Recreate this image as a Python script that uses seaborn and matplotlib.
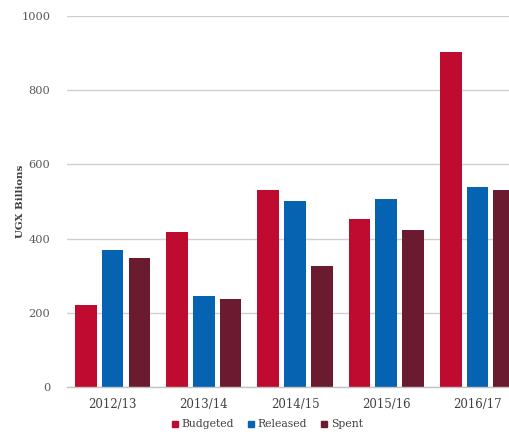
import matplotlib
matplotlib.use("Agg")
import matplotlib.pyplot as plt
from matplotlib.lines import Line2D
import seaborn as sns
import pandas as pd

# Health sector budget performance by financial year (UGX billions)
years = ["2012/13", "2013/14", "2014/15", "2015/16", "2016/17"]
budgeted = [221, 418, 531, 452, 903]
released = [369, 245, 502, 507, 539]
spent = [348, 237, 326, 423, 531]
series = ["Budgeted", "Released", "Spent"]
colors = ["#BE0B2F", "#0563B2", "#6A1B2F"]
yticks = [0, 200, 400, 600, 800, 1000]

df = pd.DataFrame({
    "year": years * 3,
    "value": budgeted + released + spent,
    "series": [s for s in series for _ in years],
})

sns.set_theme(style="white")
plt.rcParams["font.family"] = ["DejaVu Serif"]

fig = plt.figure(figsize=(5.09, 4.34), dpi=100)
ax = fig.add_axes([0.1316, 0.1083, 0.896, 0.855])

sns.barplot(data=df, x="year", y="value", hue="series", order=years,
            hue_order=series, palette=colors, width=0.88, gap=0.19,
            linewidth=0, saturation=1, ax=ax, legend=False)

ax.set_xlim(-0.5, 4.5)
ax.set_ylim(0, 1000)
ax.set_yticks(yticks)
ax.set_yticklabels([str(v) for v in yticks])
ax.yaxis.grid(True, color="#CFCFCF", linewidth=1)
ax.set_axisbelow(True)
for side in ["top", "right", "left"]:
    ax.spines[side].set_visible(False)
ax.spines["bottom"].set_color("#C4C4C4")
ax.spines["bottom"].set_linewidth(1)

ax.tick_params(axis="y", length=0, pad=12, labelsize=8.2, labelcolor="#595959")
ax.tick_params(axis="x", length=0, pad=8, labelsize=8.5, labelcolor="#404040")
ax.set_xlabel("")
ax.set_ylabel("UGX Billions", fontsize=7.4, fontweight="bold", color="#404040")
ax.yaxis.set_label_coords(-0.093, 0.50)

handles = [Line2D([0], [0], marker="s", linestyle="", markersize=5,
                  markerfacecolor=c, markeredgecolor=c) for c in colors]
fig.legend(handles, series, loc="lower center", bbox_to_anchor=(0.525, -0.012),
           ncol=3, frameon=False, fontsize=7.8, handlelength=0.6,
           handletextpad=0.3, columnspacing=1.3, labelcolor="#404040")

fig.savefig("out.png", dpi=100)
